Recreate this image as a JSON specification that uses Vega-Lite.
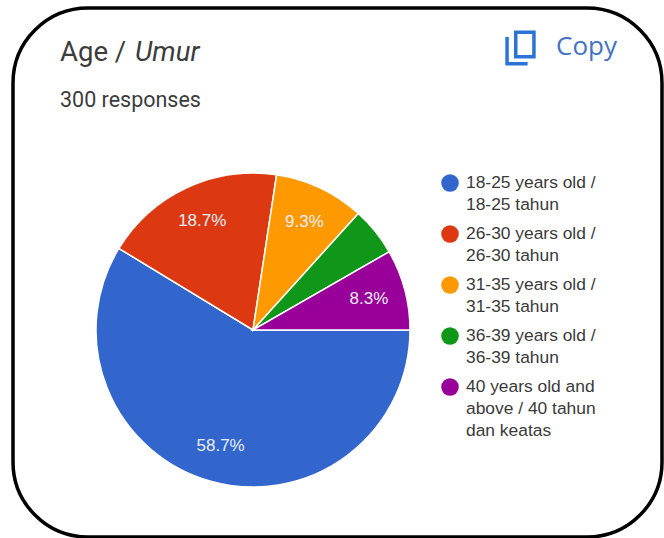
{
"$schema":"https://vega.github.io/schema/vega-lite/v6.json",
"width":649,"height":529,
"padding":{"left":13,"top":8,"right":2,"bottom":1},
"autosize":"none",
"background":"white",
"view":{"stroke":"#000000","strokeWidth":3.5,"cornerRadius":75,"fill":"white"},
"config":{"font":"Roboto"},
"datasets":{
"age":[
{"group":"18-25 years old / 18-25 tahun","lines":"18-25 years old /|18-25 tahun","share":58.7,"label":"58.7%","rank":1},
{"group":"26-30 years old / 26-30 tahun","lines":"26-30 years old /|26-30 tahun","share":18.7,"label":"18.7%","rank":2},
{"group":"31-35 years old / 31-35 tahun","lines":"31-35 years old /|31-35 tahun","share":9.3,"label":"9.3%","rank":3},
{"group":"36-39 years old / 36-39 tahun","lines":"36-39 years old /|36-39 tahun","share":5.0,"label":"","rank":4},
{"group":"40 years old and above / 40 tahun dan keatas","lines":"40 years old and|above / 40 tahun|dan keatas","share":8.3,"label":"8.3%","rank":5}
]},
"data":{"name":"age"},
"layer":[
{"mark":{"type":"arc","radius":157,"stroke":"white","strokeWidth":1.5},
"encoding":{
"x":{"value":240},"y":{"value":322},
"theta":{"field":"share","type":"quantitative","stack":true,"scale":{"range":[1.5708,7.854]}},
"order":{"field":"rank","type":"ordinal"},
"color":{"field":"lines","type":"nominal","sort":{"field":"rank"},
"scale":{"domain":["18-25 years old /|18-25 tahun","26-30 years old /|26-30 tahun","31-35 years old /|31-35 tahun","36-39 years old /|36-39 tahun","40 years old and|above / 40 tahun|dan keatas"],"range":["#3366CC","#DC3912","#FF9900","#109618","#990099"]},
"legend":{"orient":"none","legendX":428,"legendY":166,"title":null,"symbolType":"circle","symbolSize":310,"symbolStrokeWidth":0,"labelFont":"Liberation Sans","labelFontSize":17.4,"labelColor":"#3A3A3A","labelLimit":200,"labelOffset":7,"rowPadding":11,"labelExpr":"split(datum.label,'|')","encoding":{"labels":{"lineHeight":{"value":22}}}}}
}},
{"mark":{"type":"text","radius":120,"fontSize":17,"font":"Liberation Sans","color":"#E8EEF8"},
"encoding":{
"x":{"value":240},"y":{"value":322},
"theta":{"field":"share","type":"quantitative","stack":true,"scale":{"range":[1.5708,7.854]}},
"order":{"field":"rank","type":"ordinal"},
"text":{"field":"label","type":"nominal"}
}},
{"data":{"values":[{"t":"Age / "}]},"mark":{"type":"text","align":"left","baseline":"alphabetic","fontSize":27.5,"font":"Roboto","color":"#3C3C3C"},
"encoding":{"x":{"value":47},"y":{"value":53},"text":{"field":"t"}}},
{"data":{"values":[{"t":"Umur"}]},"mark":{"type":"text","align":"left","baseline":"alphabetic","fontSize":27.5,"font":"Roboto","fontStyle":"italic","color":"#3C3C3C"},
"encoding":{"x":{"value":122},"y":{"value":53},"text":{"field":"t"}}},
{"data":{"values":[{"t":"300 responses"}]},"mark":{"type":"text","align":"left","baseline":"alphabetic","fontSize":21.5,"font":"Roboto","color":"#3C3C3C"},
"encoding":{"x":{"value":47},"y":{"value":99},"text":{"field":"t"}}},
{"data":{"values":[{"t":"Copy"}]},"mark":{"type":"text","align":"left","baseline":"alphabetic","fontSize":26,"font":"Open Sans","color":"#4472C4"},
"encoding":{"x":{"value":543},"y":{"value":47},"text":{"field":"t"}}},
{"data":{"values":[{"t":"copy icon"}]},"mark":{"type":"point","filled":false,"opacity":1,"stroke":"#2B74D6","strokeWidth":3.5,"size":1000,"shape":"M-0.3 -1 H0.85 V0.55 H-0.3 Z M-0.85 -0.7 V1 H0.45"},
"encoding":{"x":{"value":507.5},"y":{"value":40}}}
]
}
